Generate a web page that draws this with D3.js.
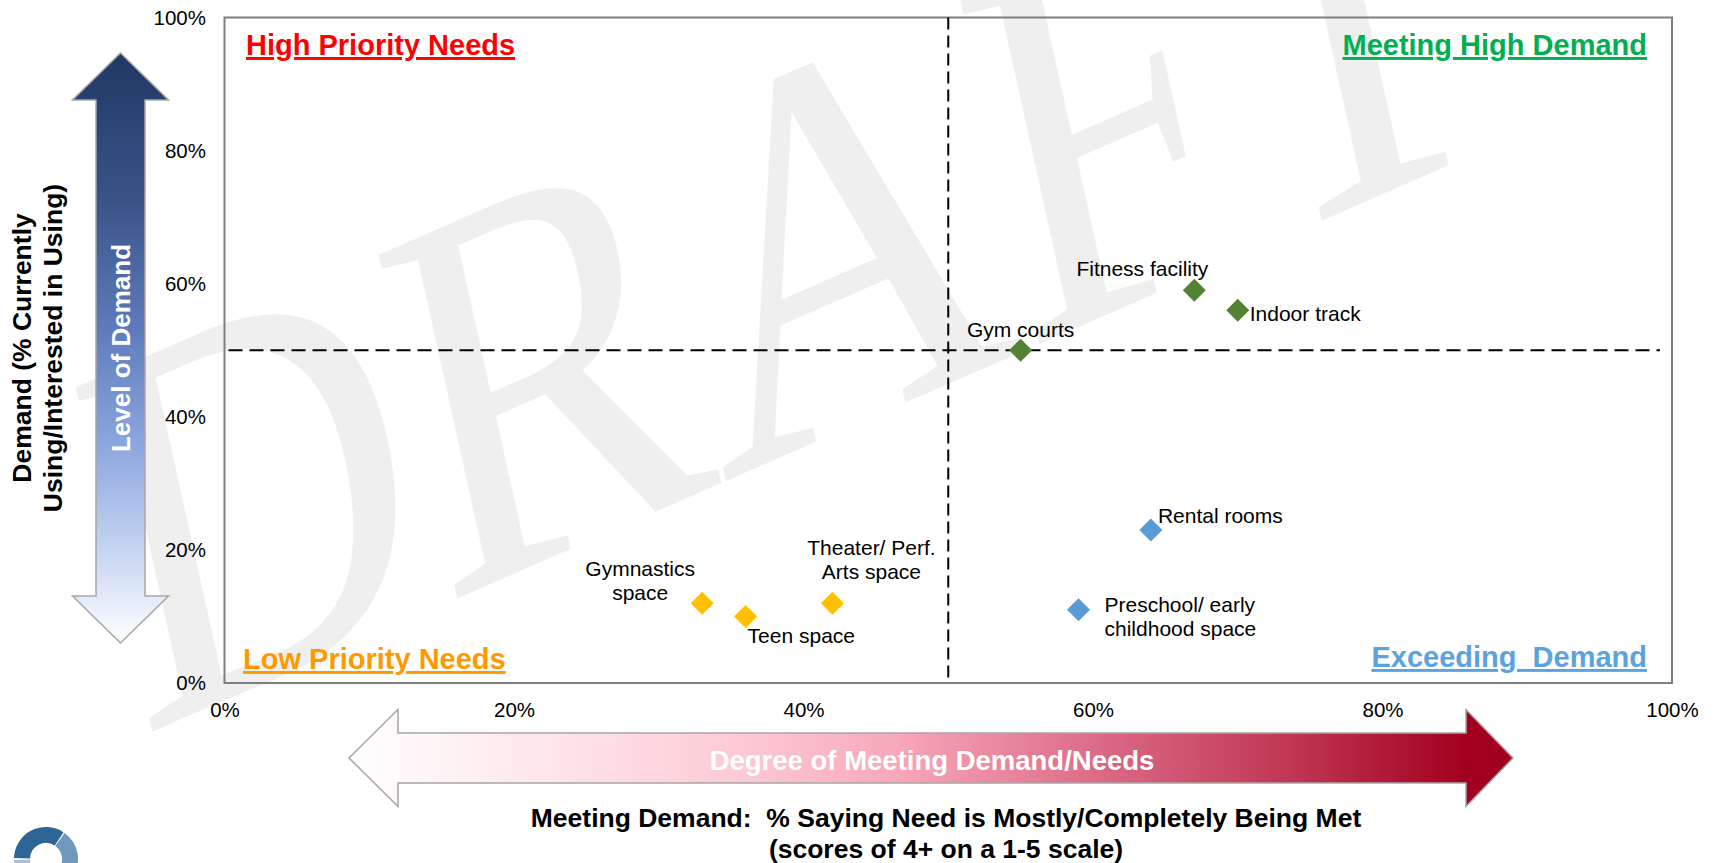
<!DOCTYPE html>
<html>
<head>
<meta charset="utf-8">
<script src="https://cdn.jsdelivr.net/npm/d3@7"></script>
<style>
  html, body { margin: 0; padding: 0; background: #fff; overflow: hidden; }
  svg { display: block; font-family: "Liberation Sans", Arial, sans-serif; }
</style>
</head>
<body>
<div id="chart"></div>
<script>
// facilities, x = % saying need is met, y = % demand
const facilities = ["Gym courts", "Fitness facility", "Indoor track", "Rental rooms",
  "Preschool/ early\nchildhood space", "Gymnastics\nspace", "Teen space", "Theater/ Perf.\nArts space"];
const meetingDemand = [55, 67, 70, 64, 59, 33, 36, 42];
const demandLevel   = [50, 59, 56, 23, 11, 12, 10, 12];
const groups = ["high", "high", "high", "exceed", "exceed", "low", "low", "low"];

const ticks = [0, 20, 40, 60, 80, 100];
const splitMeeting = 50, splitDemand = 50;

const quadrantTitles = ["High Priority Needs", "Meeting High Demand", "Low Priority Needs", "Exceeding  Demand"];

const groupColor = { high: "#548235", exceed: "#5B9BD5", low: "#FFC000" };

// label placement relative to each marker
const labelPos = {
  "Gym courts":       { dx: 0,   dy: -13, anchor: "middle" },
  "Fitness facility": { dx: 14,  dy: -14, anchor: "end" },
  "Indoor track":     { dx: 12,  dy: 11,  anchor: "start" },
  "Rental rooms":     { dx: 7,   dy: -7,  anchor: "start" },
  "Preschool/ early\nchildhood space": { dx: 26, dy: 2, anchor: "start" },
  "Gymnastics\nspace": { dx: -62, dy: -27, anchor: "middle" },
  "Teen space":       { dx: 2,   dy: 27,  anchor: "start" },
  "Theater/ Perf.\nArts space": { dx: 39, dy: -48, anchor: "middle" }
};

const titleStyle = [
  { x: 246,  y: 55,  anchor: "start", color: "#FF0000" },
  { x: 1647, y: 55,  anchor: "end",   color: "#00B050" },
  { x: 243,  y: 669, anchor: "start", color: "#FF9900" },
  { x: 1647, y: 667, anchor: "end",   color: "#5BA3DF" }
];

const width = 1717, height = 863;
const plot = { left: 224.5, right: 1672, top: 17.5, bottom: 683 };

const svg = d3.select("#chart").append("svg")
  .attr("width", width).attr("height", height);

const defs = svg.append("defs");

const vGrad = defs.append("linearGradient").attr("id", "vgrad")
  .attr("gradientUnits", "userSpaceOnUse")
  .attr("x1", 0).attr("y1", 53).attr("x2", 0).attr("y2", 643);
[[0, "#1F3864"], [0.25, "#3A5488"], [0.47, "#5E7CBC"], [0.67, "#8DA8E0"], [0.86, "#CCD9F3"], [1, "#FFFFFF"]]
  .forEach(([o, c]) => vGrad.append("stop").attr("offset", o).attr("stop-color", c));

const hGrad = defs.append("linearGradient").attr("id", "hgrad")
  .attr("gradientUnits", "userSpaceOnUse")
  .attr("x1", 349).attr("y1", 0).attr("x2", 1513).attr("y2", 0);
[[0, "#FFFFFF"], [0.17, "#FEE6EB"], [0.345, "#FDC8D3"], [0.47, "#F7A8B9"], [0.645, "#DC6A85"], [0.82, "#BD3351"], [0.96, "#A3001F"], [1, "#A00020"]]
  .forEach(([o, c]) => hGrad.append("stop").attr("offset", o).attr("stop-color", c));

// watermark
svg.append("text")
  .attr("transform", "translate(140,737) skewY(-23.6) skewX(11.4) scale(0.726,1)")
  .attr("font-family", "'Liberation Serif', 'Times New Roman', serif")
  .attr("font-size", 577)
  .attr("fill", "#EFEFEF")
  .text("DRAFT");

const x = d3.scaleLinear().domain([0, 100]).range([plot.left, plot.right]);
const y = d3.scaleLinear().domain([0, 100]).range([plot.bottom, plot.top]);

// plot frame
svg.append("rect")
  .attr("x", plot.left).attr("y", plot.top)
  .attr("width", plot.right - plot.left).attr("height", plot.bottom - plot.top)
  .attr("fill", "none").attr("stroke", "#7F7F7F").attr("stroke-width", 2);

// axes
const xAxis = svg.append("g")
  .attr("transform", `translate(0,${plot.bottom})`)
  .call(d3.axisBottom(x).tickValues(ticks).tickFormat(d => d + "%").tickSize(0).tickPadding(19));
const yAxis = svg.append("g")
  .attr("transform", `translate(${plot.left},0)`)
  .call(d3.axisLeft(y).tickValues(ticks).tickFormat(d => d + "%").tickSize(0).tickPadding(18.5));
[xAxis, yAxis].forEach(g => {
  g.select(".domain").remove();
  g.selectAll("text").attr("font-size", "20.5px").attr("fill", "#000")
    .attr("font-family", "'Liberation Sans', Arial, sans-serif");
});

// quadrant dividers
svg.append("line")
  .attr("x1", x(splitMeeting)).attr("x2", x(splitMeeting))
  .attr("y1", y(100)).attr("y2", y(0))
  .attr("stroke", "#000").attr("stroke-width", 2).attr("stroke-dasharray", "12,6");
svg.append("line")
  .attr("x1", x(0) + 4).attr("x2", x(100) - 12)
  .attr("y1", y(splitDemand)).attr("y2", y(splitDemand))
  .attr("stroke", "#000").attr("stroke-width", 2).attr("stroke-dasharray", "14,7");

// quadrant titles
svg.selectAll(".qtitle").data(quadrantTitles).join("text")
  .attr("class", "qtitle")
  .attr("x", (d, i) => titleStyle[i].x).attr("y", (d, i) => titleStyle[i].y)
  .attr("text-anchor", (d, i) => titleStyle[i].anchor)
  .attr("fill", (d, i) => titleStyle[i].color)
  .attr("font-size", "29px").attr("font-weight", "bold")
  .attr("text-decoration", "underline")
  .style("white-space", "pre")
  .text(d => d);

// points
const pts = facilities.map((name, i) => ({ name, mx: meetingDemand[i], dy: demandLevel[i], group: groups[i] }));

svg.selectAll(".pt").data(pts).join("path")
  .attr("class", "pt")
  .attr("d", d3.symbol().type(d3.symbolSquare).size(265))
  .attr("transform", d => `translate(${x(d.mx)},${y(d.dy)}) rotate(45)`)
  .attr("fill", d => groupColor[d.group]);

const lbl = svg.selectAll(".lbl").data(pts).join("text")
  .attr("class", "lbl")
  .attr("font-size", "21px").attr("fill", "#000")
  .attr("text-anchor", d => labelPos[d.name].anchor)
  .attr("x", d => x(d.mx) + labelPos[d.name].dx)
  .attr("y", d => y(d.dy) + labelPos[d.name].dy);
lbl.each(function(d) {
  const t = d3.select(this);
  d.name.split("\n").forEach((line, k) => {
    t.append("tspan")
      .attr("x", x(d.mx) + labelPos[d.name].dx)
      .attr("dy", k === 0 ? 0 : 24)
      .text(line);
  });
});

// vertical demand arrow
const line = d3.line();
const cx = 120.5;
svg.append("path")
  .attr("d", line([[cx, 53], [cx + 48, 100], [cx + 24.5, 100], [cx + 24.5, 596], [cx + 48, 596], [cx, 643],
    [cx - 48, 596], [cx - 24.5, 596], [cx - 24.5, 100], [cx - 48, 100]]) + "Z")
  .attr("fill", "url(#vgrad)").attr("stroke", "#A6A6A6").attr("stroke-width", 1.5);
svg.append("text")
  .attr("transform", `translate(${cx + 9},348) rotate(-90)`)
  .attr("text-anchor", "middle")
  .attr("font-size", "26px").attr("font-weight", "bold").attr("fill", "#fff")
  .text("Level of Demand");

// y title
const yTitle = svg.append("text")
  .attr("transform", "translate(31,348) rotate(-90)")
  .attr("text-anchor", "middle")
  .attr("font-size", "26.5px").attr("font-weight", "bold").attr("fill", "#000");
["Demand (% Currently", "Using/Interested in Using)"].forEach((s, k) => {
  yTitle.append("tspan").attr("x", 0).attr("dy", k === 0 ? 0 : 31).text(s);
});

// horizontal meeting-demand arrow
const cy = 758;
svg.append("path")
  .attr("d", line([[349, cy], [398, cy - 48.5], [398, cy - 25], [1466, cy - 25], [1466, cy - 48.5], [1513, cy],
    [1466, cy + 48.5], [1466, cy + 25], [398, cy + 25], [398, cy + 48.5]]) + "Z")
  .attr("fill", "url(#hgrad)").attr("stroke", "#A6A6A6").attr("stroke-width", 1.5);
svg.append("text")
  .attr("x", 932).attr("y", 770)
  .attr("text-anchor", "middle")
  .attr("font-size", "27.5px").attr("font-weight", "bold").attr("fill", "#fff")
  .text("Degree of Meeting Demand/Needs");

// x title
const xTitle = svg.append("text")
  .attr("x", 946).attr("y", 827)
  .attr("text-anchor", "middle")
  .attr("font-size", "26.5px").attr("font-weight", "bold").attr("fill", "#000")
  .style("white-space", "pre");
["Meeting Demand:  % Saying Need is Mostly/Completely Being Met", "(scores of 4+ on a 1-5 scale)"].forEach((s, k) => {
  xTitle.append("tspan").attr("x", 946).attr("dy", k === 0 ? 0 : 31).text(s);
});

// logo fragment
const arc = d3.arc().innerRadius(16).outerRadius(32);
const logo = svg.append("g").attr("transform", "translate(46,859)");
[[-Math.PI / 2 + 0.03, 0.58, "#2F6496"], [0.62, 2.2, "#7398BE"], [-Math.PI, -Math.PI / 2 - 0.03, "#A9BFD6"]]
  .forEach(([a0, a1, c]) => logo.append("path").attr("d", arc({ startAngle: a0, endAngle: a1 })).attr("fill", c));
</script>
</body>
</html>
